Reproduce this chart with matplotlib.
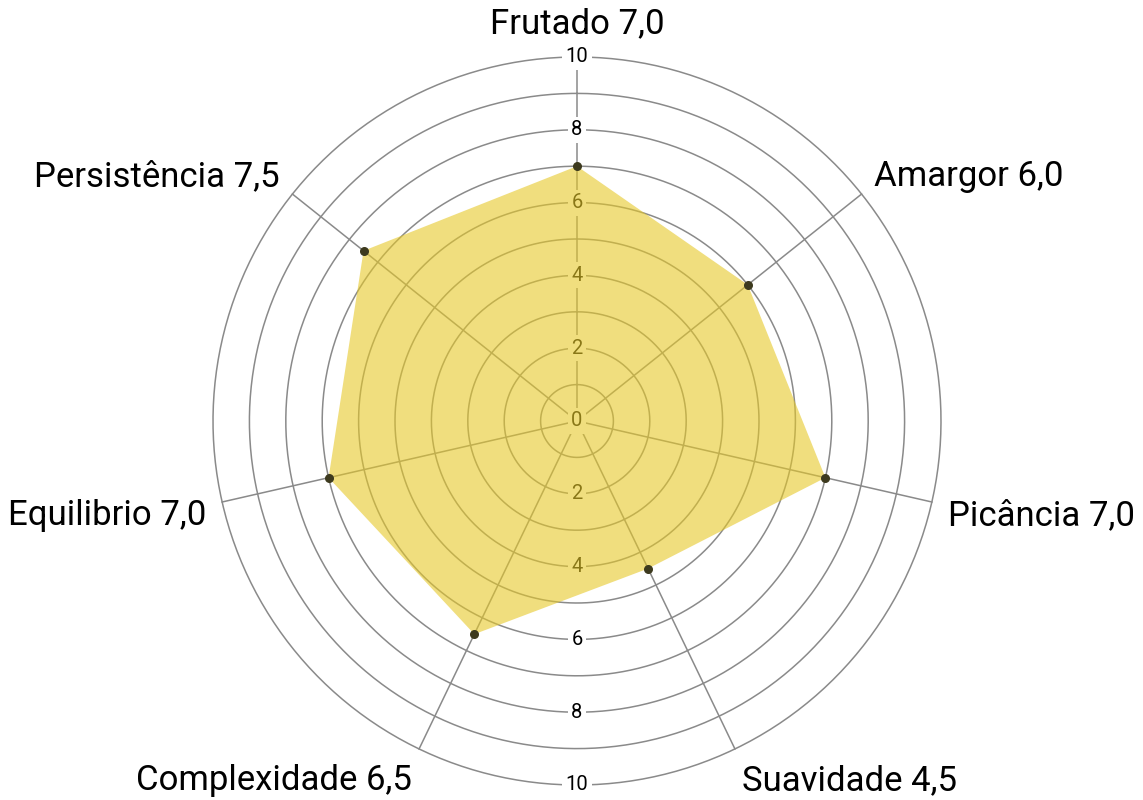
import numpy as np
import matplotlib
matplotlib.use("Agg")
import matplotlib.pyplot as plt

categories = ["Frutado", "Amargor", "Picância", "Suavidade", "Complexidade", "Equilibrio", "Persistência"]
values = [7.0, 6.0, 7.0, 4.5, 6.5, 7.0, 7.5]
tick_values = [0, 2, 4, 6, 8, 10]
grid_levels = list(range(1, 11))

plt.rcParams['font.family'] = ['Roboto', 'DejaVu Sans']

fig = plt.figure(figsize=(11.43, 8), dpi=100)
W, H = 1143, 800
cx, cy, R = 577, 421, 364
ax = fig.add_axes([(cx - R) / W, (H - cy - R) / H, 2 * R / W, 2 * R / H], projection='polar')
ax.set_theta_offset(np.pi / 2)
ax.set_theta_direction(-1)
ax.set_ylim(0, 10)
ax.grid(False)
ax.set_xticks([])
ax.set_yticks([])
ax.spines['polar'].set_visible(False)
ax.patch.set_alpha(0)

n = len(categories)
angles = np.arange(n) * 2 * np.pi / n
full = np.linspace(0, 2 * np.pi, 400)

gcol = '#8a8a8a'
for lv in grid_levels:
    ax.plot(full, np.full_like(full, lv), color=gcol, lw=1.1, zorder=1, clip_on=False)
for a in angles:
    ax.plot([a, a], [0, 10], color=gcol, lw=1.1, zorder=1, clip_on=False)

for tv in tick_values:
    ax.text(0, tv, str(tv), ha='center', va='center', fontsize=14.5, color='black',
            bbox=dict(facecolor='white', edgecolor='none', pad=2.5), zorder=2, clip_on=False)
    if tv > 0:
        ax.text(np.pi, tv, str(tv), ha='center', va='center', fontsize=14.5, color='black',
                bbox=dict(facecolor='white', edgecolor='none', pad=2.5), zorder=2, clip_on=False)

ang_c = np.concatenate([angles, angles[:1]])
val_c = np.concatenate([values, values[:1]])
ax.fill(ang_c, val_c, color='#e6c828', alpha=0.6, lw=0, zorder=3)
ax.scatter(angles, values, s=30, color='#3d3a1e', zorder=4, clip_on=False)

r_lab = 10.45
for a, c, v in zip(angles, categories, values):
    vert = np.cos(a)   # up positive
    horiz = np.sin(a)  # right positive
    label = f"{c} {v:.1f}".replace('.', ',')
    if abs(horiz) < 0.05:
        ha, va, dy = 'center', ('bottom' if vert > 0 else 'top'), 0
    else:
        ha = 'left' if horiz > 0 else 'right'
        if abs(vert) > 0.8:
            va, dy = ('bottom' if vert > 0 else 'top'), 0
        else:
            va, dy = 'center', (5 if vert > 0 else -7)
    ax.annotate(label, xy=(a, r_lab), xytext=(0, dy), textcoords='offset points',
                ha=ha, va=va, fontsize=25, color='black', annotation_clip=False)

fig.savefig('out.png', dpi=100)
